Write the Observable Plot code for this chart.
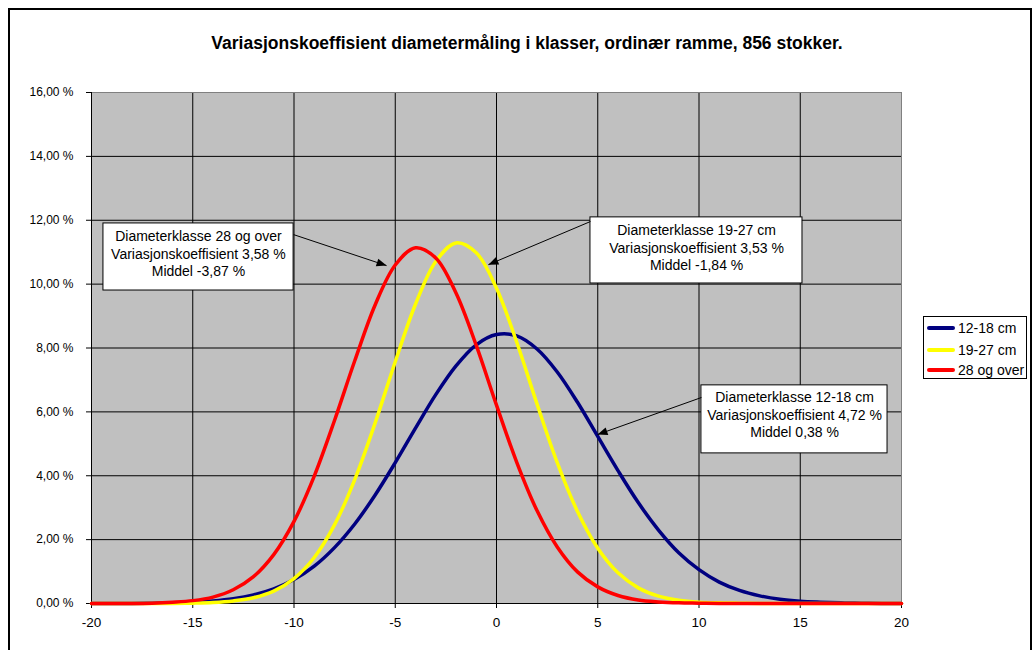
<!DOCTYPE html>
<html>
<head>
<meta charset="utf-8">
<script src="https://cdn.jsdelivr.net/npm/d3@7"></script>
<script src="https://cdn.jsdelivr.net/npm/@observablehq/plot@0.6"></script>
<style>
  body { margin: 0; background: #fff; font-family: "Liberation Sans", Arial, sans-serif; }
  #chart { position: relative; width: 1034px; height: 650px; overflow: hidden; }
  #border { position: absolute; left: 8px; top: 8px; width: 1024px; height: 700px; border: 2px solid #000; box-sizing: border-box; }
  #plot { position: absolute; left: 0; top: 0; }
  #title { position: absolute; left: 0; width: 1054px; top: 33px; text-align: center; font-weight: bold; font-size: 17.5px; color: #000; }
  #legend { position: absolute; left: 923px; top: 316px; width: 104px; height: 63px; border: 1px solid #000; background: #fff; box-sizing: border-box; font-size: 14px; color: #000; }
  .item { position: absolute; left: 3px; height: 16px; display: flex; align-items: center; white-space: nowrap; }
  .sw { width: 28px; height: 4px; border-radius: 2px; margin-right: 3px; }
  #plot svg g[aria-label="y-axis tick label"] { font-size: 12px !important; }
  #plot svg g[aria-label="x-axis tick label"] { font-size: 13.5px !important; }
</style>
</head>
<body>
<div id="chart">
  <div id="border"></div>
  <div id="plot"></div>
  <div id="title">Variasjonskoeffisient diametermåling i klasser, ordinær ramme, 856 stokker.</div>
  <div id="legend"></div>
</div>
<script>
// ---- Data ----
const xValues = [-20,-19,-18,-17,-16,-15,-14,-13,-12,-11,-10,-9,-8,-7,-6,-5,-4,-3,-2,-1,0,1,2,3,4,5,6,7,8,9,10,11,12,13,14,15,16,17,18,19,20];
const values12_18 = [0.00,0.00,0.00,0.01,0.02,0.04,0.08,0.15,0.27,0.46,0.75,1.17,1.75,2.49,3.39,4.41,5.49,6.54,7.44,8.10,8.42,8.38,7.97,7.25,6.30,5.23,4.16,3.16,2.30,1.59,1.06,0.67,0.41,0.24,0.13,0.07,0.04,0.02,0.01,0.00,0.00];
const values19_27 = [0.00,0.00,0.00,0.00,0.00,0.01,0.03,0.08,0.18,0.39,0.78,1.44,2.46,3.88,5.64,7.57,9.37,10.71,11.29,10.98,9.87,8.18,6.25,4.41,2.88,1.73,0.96,0.49,0.23,0.10,0.04,0.02,0.01,0.00,0.00,0.00,0.00,0.00,0.00,0.00,0.00];
const values28 = [0.00,0.00,0.00,0.01,0.04,0.09,0.20,0.43,0.84,1.53,2.57,3.99,5.73,7.60,9.34,10.60,11.14,10.82,9.72,8.08,6.21,4.42,2.91,1.77,0.99,0.52,0.25,0.11,0.05,0.02,0.01,0.00,0.00,0.00,0.00,0.00,0.00,0.00,0.00,0.00,0.00];
const seriesNames = ["12-18 cm", "19-27 cm", "28 og over"];
const seriesColors = ["#000080", "#ffff00", "#ff0000"];
const xTicks = [-20, -15, -10, -5, 0, 5, 10, 15, 20];
const yTicks = [0, 2, 4, 6, 8, 10, 12, 14, 16];
const annotationTexts = [
  "Diameterklasse 28 og over\nVariasjonskoeffisient 3,58 %\nMiddel -3,87 %",
  "Diameterklasse 19-27 cm\nVariasjonskoeffisient 3,53 %\nMiddel -1,84 %",
  "Diameterklasse 12-18 cm\nVariasjonskoeffisient 4,72 %\nMiddel 0,38 %"
];

// ---- Layout ----
const W = 910, H = 650;
const M = {left: 91, top: 92, right: 9, bottom: 47};
const xDomain = [-20, 20], yDomain = [0, 16];

// annotation placement (data units)
const annLayout = [
  {box: [-19.41, -10.02, 9.80, 11.90], tx: -14.72, ty: 11.74, from: [-10.02, 11.55], to: [-5.43, 10.58]},
  {box: [4.64, 15.11, 10.02, 12.09], tx: 9.88, ty: 11.93, from: [4.64, 11.96], to: [-0.40, 10.61]},
  {box: [10.12, 19.31, 4.70, 6.83], tx: 14.72, ty: 6.70, from: [10.12, 6.45], to: [4.99, 5.29]}
];

const sx = d3.scaleLinear(xDomain, [M.left, W - M.right]);
const sy = d3.scaleLinear(yDomain, [H - M.bottom, M.top]);
const annotations = annotationTexts.map((t, i) => {
  const a = annLayout[i];
  const ang = Math.atan2(sy(a.to[1]) - sy(a.from[1]), sx(a.to[0]) - sx(a.from[0])) * 180 / Math.PI;
  return {text: t, ...a, angle: ang};
});

const seriesValues = [values12_18, values19_27, values28];
const rows = seriesValues.map((vals, i) => xValues.map((x, j) => ({x, y: vals[j], s: seriesNames[i]})));

const arrowHead = {
  draw(ctx, size) {
    const r = Math.sqrt(size / Math.PI);
    const l = r * 2, w = r * 0.8;
    ctx.moveTo(0, 0);
    ctx.lineTo(-l, -w);
    ctx.lineTo(-l, w);
    ctx.closePath();
  }
};

const fmtY = d => d.toFixed(2).replace(".", ",") + " %";

const chart = Plot.plot({
  width: W, height: H,
  marginLeft: M.left, marginTop: M.top, marginRight: M.right, marginBottom: M.bottom,
  style: {background: "transparent", fontFamily: "'Liberation Sans', Arial, sans-serif", fontSize: "12px", color: "#000"},
  x: {domain: xDomain, label: null},
  y: {domain: yDomain, label: null},
  marks: [
    Plot.frame({fill: "#c0c0c0", stroke: null}),
    Plot.gridX(xTicks, {stroke: "#000", strokeOpacity: 1, strokeWidth: 1}),
    Plot.gridY(yTicks, {stroke: "#000", strokeOpacity: 1, strokeWidth: 1}),
    Plot.frame({stroke: "#808080"}),
    Plot.ruleX([-20], {stroke: "#000"}),
    Plot.ruleY([0], {stroke: "#000"}),
    Plot.axisY({ticks: yTicks, tickFormat: fmtY, tickSize: 5, tickPadding: 13, stroke: "#000", fill: "#000", label: null}),
    Plot.axisX({ticks: xTicks, tickFormat: d => String(d), tickSize: 5, tickPadding: 9, stroke: "#000", fill: "#000", label: null}),
    ...rows.map((r, i) => Plot.line(r, {x: "x", y: "y", stroke: seriesColors[i], strokeWidth: 3.5, curve: "catmull-rom"})),
    Plot.rect(annotations, {x1: d => d.box[0], x2: d => d.box[1], y1: d => d.box[2], y2: d => d.box[3], fill: "#fff", stroke: "#000", strokeWidth: 1}),
    Plot.text(annotations, {x: "tx", y: "ty", text: "text", fontSize: 14, lineHeight: 1.26, lineAnchor: "top", textAnchor: "middle", fill: "#000"}),
    Plot.link(annotations, {x1: d => d.from[0], y1: d => d.from[1], x2: d => d.to[0], y2: d => d.to[1], stroke: "#000", strokeWidth: 1}),
    Plot.dot(annotations, {x: d => d.to[0], y: d => d.to[1], r: 5, symbol: arrowHead, rotate: "angle", fill: "#000", stroke: null})
  ]
});
document.getElementById("plot").appendChild(chart);

// Legend
const legend = document.getElementById("legend");
const itemTops = [3, 25, 45];
seriesNames.forEach((n, i) => {
  const it = document.createElement("div");
  it.className = "item";
  it.style.top = itemTops[i] + "px";
  const sw = document.createElement("div");
  sw.className = "sw";
  sw.style.background = seriesColors[i];
  const tx = document.createElement("span");
  tx.textContent = n;
  it.appendChild(sw); it.appendChild(tx);
  legend.appendChild(it);
});
</script>
</body>
</html>
